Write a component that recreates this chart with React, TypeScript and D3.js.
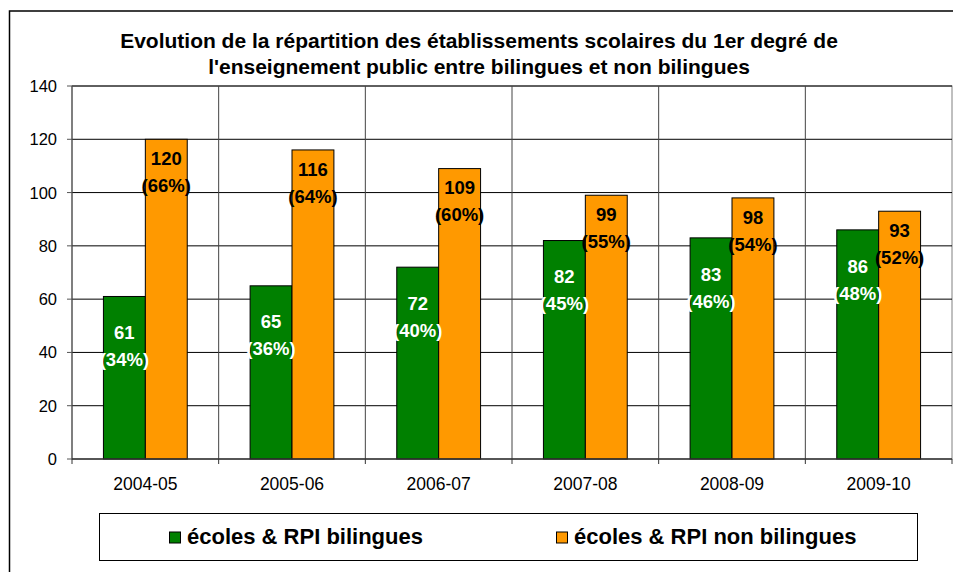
import React from "react";
import * as d3 from "d3";

const categories = ["2004-05", "2005-06", "2006-07", "2007-08", "2008-09", "2009-10"];
const bilingues = [61, 65, 72, 82, 83, 86];
const nonBilingues = [120, 116, 109, 99, 98, 93];
const seriesNames = ["écoles & RPI bilingues", "écoles & RPI non bilingues"];
const seriesColors = ["#008000", "#FF9900"];
const labelColors = ["#FFFFFF", "#000000"];
const yTicks = [0, 20, 40, 60, 80, 100, 120, 140];
const titleLines = [
  "Evolution de la répartition des établissements scolaires du 1er degré de",
  "l'enseignement public entre bilingues et non bilingues",
];

const W = 953;
const H = 572;
const plot = { left: 72, right: 952, top: 86, bottom: 459 };
const FONT = "'Liberation Sans', Arial, sans-serif";

export default function App() {
  const x = d3.scaleBand<string>().domain(categories).range([plot.left, plot.right]).paddingInner(0).paddingOuter(0);
  const y = d3.scaleLinear().domain([0, 140]).range([plot.bottom, plot.top]);
  const bw = x.bandwidth();
  const barW = bw / 3.5;
  const sub = d3.scaleBand<number>().domain([0, 1]).range([bw / 2 - barW, bw / 2 + barW]);
  const series = [bilingues, nonBilingues];
  const labelOffset = [36, 19];

  return (
    <svg
      width={W}
      height={H}
      style={{ position: "fixed", left: 0, top: 0, background: "#fff" }}
      fontFamily={FONT}
    >
      <rect x={0} y={0} width={W} height={H} fill="#fff" />
      {/* chart outer border */}
      <rect x={9.5} y={11} width={W + 20} height={H + 20} fill="none" stroke="#000" strokeWidth={1.5} />

      {/* title */}
      {titleLines.map((t, i) => (
        <text
          key={i}
          x={479}
          y={48 + i * 26}
          textAnchor="middle"
          fontSize={21}
          fontWeight="bold"
          fill="#000"
        >
          {t}
        </text>
      ))}

      {/* plot area */}
      <rect
        x={plot.left}
        y={plot.top}
        width={plot.right - plot.left}
        height={plot.bottom - plot.top}
        fill="#fff"
        stroke="#808080"
        strokeWidth={1}
      />
      {/* horizontal gridlines */}
      {yTicks.filter((v) => v > 0).map((v) => (
        <line key={v} x1={plot.left} x2={plot.right} y1={y(v)} y2={y(v)} stroke="#000" strokeWidth={1} />
      ))}
      {/* vertical gridlines */}
      {categories.slice(1).map((c) => (
        <line key={c} x1={x(c)!} x2={x(c)!} y1={plot.top} y2={plot.bottom} stroke="#444" strokeWidth={1} />
      ))}

      {/* bars */}
      {series.map((vals, si) =>
        vals.map((v, ci) => {
          const bx = x(categories[ci])! + sub(si)!;
          return (
            <rect
              key={`${si}-${ci}`}
              x={bx}
              y={y(v)}
              width={sub.bandwidth()}
              height={y(0) - y(v)}
              fill={seriesColors[si]}
              stroke="#000"
              strokeWidth={1}
            />
          );
        })
      )}

      {/* y axis */}
      <line x1={plot.left} x2={plot.left} y1={plot.top} y2={plot.bottom} stroke="#555" strokeWidth={1.2} />
      {yTicks.map((v) => (
        <g key={v}>
          <line x1={plot.left - 5} x2={plot.left} y1={y(v)} y2={y(v)} stroke="#555" strokeWidth={1} />
          <text x={57} y={y(v)} dy="0.36em" textAnchor="end" fontSize={16.5} fill="#000">
            {v}
          </text>
        </g>
      ))}

      {/* x axis */}
      <line x1={plot.left} x2={plot.right} y1={plot.bottom} y2={plot.bottom} stroke="#333" strokeWidth={1.5} />
      {[...categories.map((c) => x(c)!), plot.right].map((px, i) => (
        <line key={i} x1={px} x2={px} y1={plot.bottom} y2={plot.bottom + 5} stroke="#333" strokeWidth={1} />
      ))}
      {categories.map((c) => (
        <text key={c} x={x(c)! + bw / 2} y={490} textAnchor="middle" fontSize={17.5} fill="#000">
          {c}
        </text>
      ))}

      {/* data labels */}
      {series.map((vals, si) =>
        vals.map((v, ci) => {
          const total = bilingues[ci] + nonBilingues[ci];
          const pct = Math.round((v / total) * 100);
          const cx = x(categories[ci])! + sub(si)! + sub.bandwidth() / 2;
          const cy = y(v) + labelOffset[si];
          return (
            <g key={`l${si}-${ci}`} fontSize={18.5} fontWeight="bold" fill={labelColors[si]} textAnchor="middle">
              <text x={cx} y={cy} dy="0.36em">{v}</text>
              <text x={cx} y={cy + 27} dy="0.36em">({pct}%)</text>
            </g>
          );
        })
      )}

      {/* legend */}
      <rect x={99.5} y={513.5} width={818} height={47} fill="#fff" stroke="#000" strokeWidth={1} />
      {seriesNames.map((n, i) => {
        const sx = i === 0 ? 169 : 556;
        return (
          <g key={n}>
            <rect x={sx + 0.5} y={532} width={11} height={11} fill={seriesColors[i]} stroke="#000" strokeWidth={1} />
            <text x={sx + 18} y={544} fontSize={22} fontWeight="bold" fill="#000">
              {n}
            </text>
          </g>
        );
      })}
    </svg>
  );
}
